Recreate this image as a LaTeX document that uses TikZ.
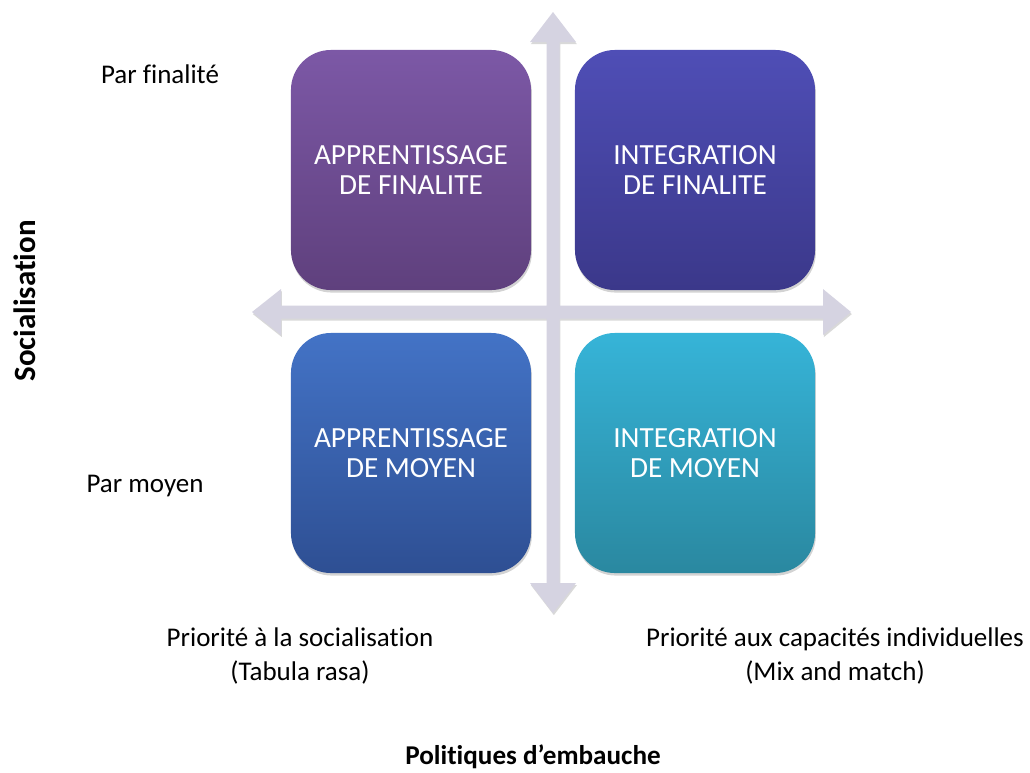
\documentclass[tikz,border=0pt]{standalone}
\usepackage{fontspec}
\setmainfont{Carlito}[Ligatures=NoCommon]
\usetikzlibrary{shadows}
\definecolor{axegris}{HTML}{D5D3E1}
\tikzset{quadrant/.style={rounded corners=1cm, minimum width=6cm, minimum height=6cm,
  text=white, align=center, font=\fontsize{20.8}{21.3}\selectfont,
  drop shadow={opacity=0.35, shadow xshift=0.6pt, shadow yshift=-1.8pt}},
  legende/.style={align=center, font=\fontsize{19.2}{23.5}\selectfont},
  titre/.style={font=\bfseries\fontsize{19.3}{22}\selectfont}}

\begin{document}
\begin{tikzpicture}[x=0.025cm, y=-0.025cm]
\useasboundingbox (0,0) rectangle (1030,772);
% axes
\fill[axegris, drop shadow={opacity=0.3, shadow xshift=0.6pt, shadow yshift=-1.5pt}]
  (553,12) -- (576,42) -- (559.5,42) -- (559.5,583) -- (576,583) -- (553,613)
  -- (530,583) -- (546.5,583) -- (546.5,42) -- (530,42) -- cycle
  (252,312) -- (281,289) -- (281,305.5) -- (823,305.5) -- (823,289) -- (851,312)
  -- (823,335) -- (823,318.5) -- (281,318.5) -- (281,335) -- cycle;
% quadrants
\node[quadrant, top color={rgb,255:red,124;green,88;blue,166}, bottom color={rgb,255:red,95;green,64;blue,125}]
  (appfin) at (411,170) {APPRENTISSAGE\\DE FINALITE};
\node[quadrant, top color={rgb,255:red,79;green,78;blue,182}, bottom color={rgb,255:red,59;green,56;blue,138}]
  (intfin) at (695,170) {INTEGRATION\\DE FINALITE};
\node[quadrant, top color={rgb,255:red,67;green,115;blue,198}, bottom color={rgb,255:red,46;green,79;blue,147}]
  (appmoy) at (411,453) {APPRENTISSAGE\\DE MOYEN};
\node[quadrant, top color={rgb,255:red,54;green,180;blue,216}, bottom color={rgb,255:red,42;green,136;blue,160}]
  (intmoy) at (695,453) {INTEGRATION\\DE MOYEN};
% legends
\node[legende] (parfin) at (160,74) {Par finalité};
\node[legende] (parmoy) at (145,486) {Par moyen};
\node[titre, font=\bfseries\fontsize{22}{24}\selectfont, rotate=90] (socia) at (25,301) {Socialisation};
\node[legende] (prisoc) at (300,656) {Priorité à la socialisation\\(Tabula rasa)};
\node[legende] (pricap) at (835,656) {Priorité aux capacités individuelles\\(Mix and match)};
\node[titre] (politiques) at (533,757) {Politiques d’embauche};
\end{tikzpicture}
\end{document}
